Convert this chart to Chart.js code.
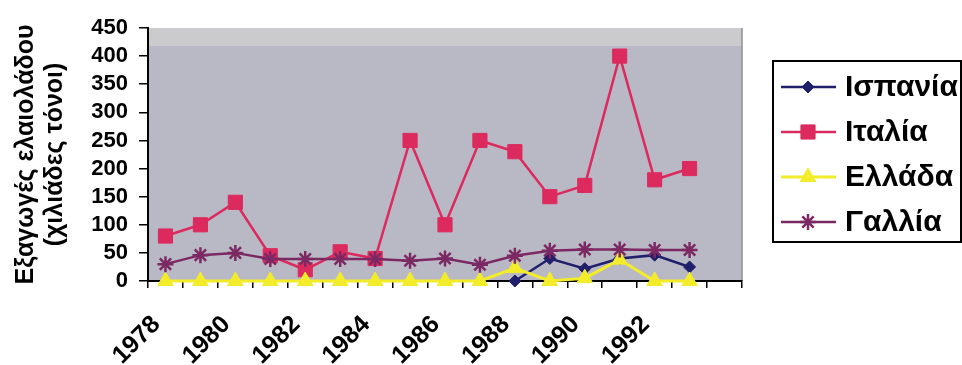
<!DOCTYPE html>
<html>
<head>
<meta charset="utf-8">
<script src="https://cdn.jsdelivr.net/npm/chart.js@4/dist/chart.umd.min.js"></script>
<style>
  html, body { margin: 0; padding: 0; background: #fff; }
  #wrap { width: 962px; height: 365px; }
</style>
</head>
<body>
<div id="wrap"><canvas id="chart" width="962" height="365"></canvas></div>
<script>
// years on the x axis (1994 slot is empty, as in the original)
const years = ["1978", "1979", "1980", "1981", "1982", "1983", "1984", "1985", "1986",
  "1987", "1988", "1989", "1990", "1991", "1992", "1993", "1994"];

// olive oil exports, thousand tonnes
const spain = [null, null, null, null, null, null, null, null, null, null, 0, 40, 22, 40, 46, 25, null];
const italy = [80, 100, 140, 45, 20, 52, 40, 250, 100, 250, 230, 150, 170, 400, 180, 200, null];
const greece = [0, 0, 0, 0, 0, 0, 0, 0, 0, 0, 23, 0, 5, 38, 0, 0, null];
const france = [30, 46, 50, 39, 39, 39, 39, 36, 40, 29, 45, 54, 56, 56, 55, 55, null];

const seriesNames = ["Ισπανία", "Ιταλία", "Ελλάδα", "Γαλλία"];
const yTitle = ["Εξαγωγές ελαιολάδου", "(χιλιάδες τόνοι)"];

const FONT = '"Liberation Sans", Arial, sans-serif';
Chart.defaults.font.family = FONT;
Chart.defaults.color = "#000";

// grey plot area + the lighter band along the top
const plotBg = {
  id: "plotBg",
  beforeDraw(chart) {
    const { ctx, chartArea: a } = chart;
    ctx.save();
    ctx.fillStyle = "#b9b8c5";
    ctx.fillRect(a.left, a.top, a.right - a.left, a.bottom - a.top);
    ctx.fillStyle = "#cbcbce";
    ctx.fillRect(a.left, a.top, a.right - a.left, 18);
    ctx.strokeStyle = "#8e8e98";
    ctx.lineWidth = 1.5;
    ctx.beginPath();
    ctx.moveTo(a.right, a.top);
    ctx.lineTo(a.right, a.bottom);
    ctx.stroke();
    ctx.restore();
  }
};

// boxed legend with line + marker samples
const boxLegend = {
  id: "boxLegend",
  afterDraw(chart) {
    const ctx = chart.ctx;
    ctx.save();
    ctx.strokeStyle = "#000";
    ctx.lineWidth = 2;
    ctx.strokeRect(773, 61, 188, 181);
    chart.data.datasets.forEach((ds, i) => {
      const y = 87 + 45 * i;
      ctx.strokeStyle = ds.borderColor;
      ctx.fillStyle = ds.backgroundColor;
      ctx.lineWidth = ds.borderWidth;
      ctx.beginPath();
      ctx.moveTo(781, y);
      ctx.lineTo(836, y);
      ctx.stroke();
      ctx.lineWidth = ds.pointBorderWidth;
      Chart.helpers.drawPoint(ctx, {
        pointStyle: ds.pointStyle,
        radius: ds.pointRadius,
        borderWidth: ds.pointBorderWidth,
        rotation: 0
      }, 808, y);
      ctx.fillStyle = "#000";
      ctx.font = "bold 30px " + FONT;
      ctx.textBaseline = "middle";
      ctx.textAlign = "left";
      ctx.fillText(ds.label, 845, y + 1);
    });
    ctx.restore();
  }
};

const ctx = document.getElementById("chart").getContext("2d");
new Chart(ctx, {
  type: "line",
  data: {
    labels: years,
    datasets: [
      {
        label: seriesNames[0], data: spain, order: 3, clip: false,
        borderColor: "#1f1f6b", backgroundColor: "#1f1f6b", borderWidth: 2.5,
        pointStyle: "rectRot", pointRadius: 6, pointBorderWidth: 1
      },
      {
        label: seriesNames[1], data: italy, order: 2, clip: false,
        borderColor: "#dc2a5e", backgroundColor: "#dc2a5e", borderWidth: 2.5,
        pointStyle: "rect", pointRadius: 10, pointBorderWidth: 1
      },
      {
        label: seriesNames[2], data: greece, order: 1, clip: false,
        borderColor: "#f3ec2b", backgroundColor: "#f3ec2b", borderWidth: 3,
        pointStyle: "triangle", pointRadius: 9, pointBorderWidth: 1
      },
      {
        label: seriesNames[3], data: france, order: 0, clip: false,
        borderColor: "#7c2963", backgroundColor: "#7c2963", borderWidth: 2.5,
        pointStyle: "star", pointRadius: 8, pointBorderWidth: 2.5
      }
    ]
  },
  options: {
    responsive: false,
    animation: false,
    devicePixelRatio: 1,
    layout: { padding: { top: 28, right: 220, bottom: 0, left: 0 } },
    plugins: {
      legend: { display: false },
      tooltip: { enabled: false }
    },
    scales: {
      x: {
        offset: true,
        grid: { offset: true, drawOnChartArea: false, tickLength: 7, color: "#000", lineWidth: 1.5 },
        border: { display: true, color: "#000", width: 2 },
        ticks: {
          autoSkip: false, minRotation: 45, maxRotation: 45, padding: 22, labelOffset: -9,
          font: { size: 25, weight: "bold" },
          callback: (v, i) => (i % 2 === 0 && i < years.length - 1) ? years[i] : ""
        },
        afterFit: (s) => { s.height = 84; }
      },
      y: {
        min: 0, max: 450,
        ticks: { stepSize: 50, autoSkip: false, padding: 11, font: { size: 22, weight: "bold" } },
        grid: { drawOnChartArea: false, tickLength: 9, color: "#000", lineWidth: 1.5 },
        border: { display: true, color: "#000", width: 2 },
        title: {
          display: true, text: yTitle,
          font: { size: 25, weight: "bold", lineHeight: 1.15 },
          padding: { top: 12, bottom: 0 }
        },
        afterFit: (s) => { s.width = 148; }
      }
    }
  },
  plugins: [plotBg, boxLegend]
});
</script>
</body>
</html>
